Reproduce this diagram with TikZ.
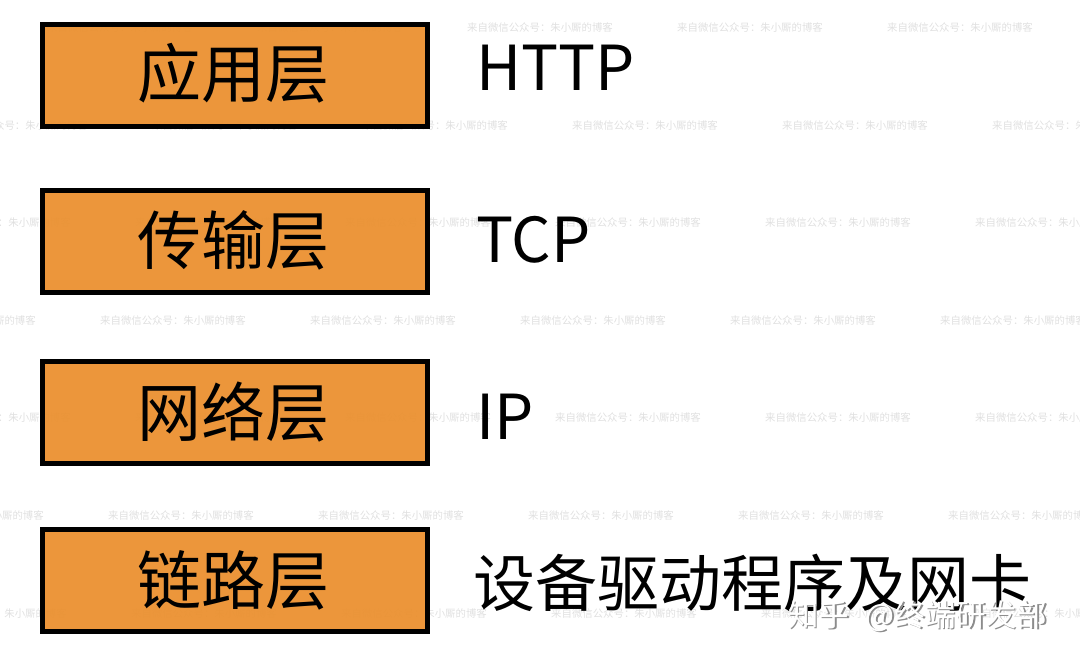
\documentclass[tikz,border=0pt]{standalone}
\usepackage{fontspec}
\setmainfont{Noto Sans CJK SC}
\definecolor{layerfill}{RGB}{235,143,45}
\begin{document}
\begin{tikzpicture}[x=1pt,y=-1pt,
  layerbox/.style={draw=black,line width=5pt,fill=layerfill,fill opacity=0.93,minimum width=385pt,minimum height=102pt,inner sep=0pt},
  layertext/.style={inner sep=0pt,font=\fontsize{64}{64}\selectfont,text=black},
  prototext/.style={inner sep=0pt,anchor=west,font=\fontsize{62}{62}\selectfont,text=black},
  wmtext/.style={inner sep=0pt,anchor=west,font=\fontsize{10.4}{10.4}\selectfont,text=black,text opacity=0.12},
  zhtext/.style={inner sep=0pt,anchor=west,font=\fontsize{30.5}{30.5}\selectfont}]
\useasboundingbox[fill=white] (0,0) rectangle (1080,659);
% watermarks (under the boxes)
\foreach \r/\yy/\xs in {1/28/-163, 2/126/-58, 3/223/-75, 4/321/-110, 5/418/-75, 6/516/-102, 7/614/-79}{
  \foreach \k in {0,...,5}{
    \node[wmtext] (wm\r-\k) at ({\xs+210*\k},\yy) {来自微信公众号：朱小厮的博客};
  }
}
% boxes
\node[layerbox] (b1) at (235,75.5) {};
\node[layerbox] (b2) at (235,241.5) {};
\node[layerbox] (b3) at (235,412) {};
\node[layerbox] (b4) at (235,580) {};
\node[layertext] (t1) at (233,73) {应用层};
\node[layertext] (t2) at (233,240) {传输层};
\node[layertext] (t3) at (233,412) {网络层};
\node[layertext] (t4) at (233,580) {链路层};
% protocol labels
\node[prototext] (p1) at (476,68) {HTTP};
\node[prototext] (p2) at (476,240) {TCP};
\node[prototext] (p3) at (476,417) {IP};
\node[prototext] (p4) at (473,583) {设备驱动程序及网卡};
% zhihu mark
\node[zhtext,text=black!45] (zhs) at (789.5,617.5) {知乎\hspace{0.55em}@终端研发部};
\node[zhtext,text=white] (zh) at (788,616) {知乎\hspace{0.55em}@终端研发部};
\end{tikzpicture}
\end{document}
